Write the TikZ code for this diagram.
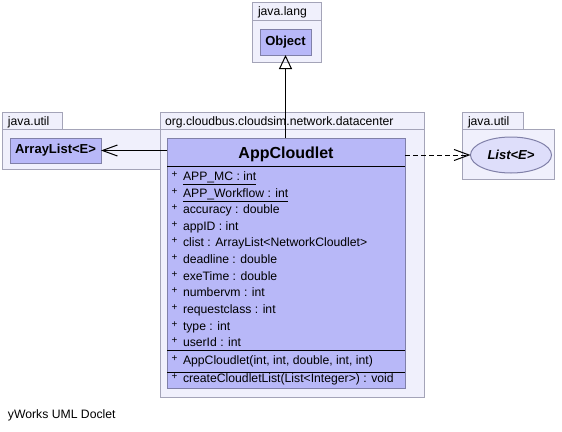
\documentclass[tikz,border=0pt]{standalone}
\usepackage{fontspec}
\setmainfont{Liberation Sans}
\usetikzlibrary{arrows.meta,shapes.geometric}
\definecolor{pkgfill}{RGB}{240,240,252}
\definecolor{pkgline}{RGB}{164,164,184}
\definecolor{clsfill}{RGB}{184,184,248}
\definecolor{clsline}{RGB}{128,128,168}
\definecolor{ellfill}{RGB}{222,222,250}
\begin{document}
\begin{tikzpicture}[x=1pt,y=-1pt,
  every node/.style={outer sep=0pt},
  pkgbox/.style={draw=pkgline, fill=pkgfill, line width=1pt, anchor=north west, inner sep=0pt},
  clsbox/.style={draw=clsline, fill=clsfill, line width=1pt, inner sep=0pt, font=\bfseries\fontsize{13}{15}\selectfont},
  txt/.style={inner sep=0pt, anchor=base west, font=\fontsize{12.2}{14}\selectfont},
  plus/.style={inner sep=0pt, anchor=base west, font=\fontsize{10}{12}\selectfont},
  sep/.style={line width=1pt, black},
  conn/.style={line width=1pt, black},
]
\useasboundingbox (0,0) rectangle (562,431);
\fill[white] (0,0) rectangle (562,431);

% java.lang package
\node[pkgbox, minimum width=69pt, minimum height=42pt] (langbody) at (252,20) {};
\node[pkgbox, minimum width=69pt, minimum height=18pt] (langtab) at (252,2) {};
\node[txt] (langlbl) at (258,15.5) {java.lang};
\node[clsbox, anchor=north west, minimum width=51pt, minimum height=26pt] (obj) at (260,29) {Object};

% left java.util package
\node[pkgbox, minimum width=161pt, minimum height=40pt] (utilLbody) at (2,129) {};
\node[pkgbox, minimum width=60pt, minimum height=17pt] (utilLtab) at (2,112) {};
\node[txt] (utilLlbl) at (8,125) {java.util};
\node[clsbox, anchor=north west, minimum width=91pt, minimum height=25pt] (arr) at (10,138) {ArrayList<E>};

% right java.util package
\node[pkgbox, minimum width=92pt, minimum height=50pt] (utilRbody) at (462,129) {};
\node[pkgbox, minimum width=61pt, minimum height=17pt] (utilRtab) at (462,112) {};
\node[txt] (utilRlbl) at (468,125) {java.util};
\node[ellipse, draw=clsline, fill=ellfill, line width=1pt, inner sep=0pt,
      minimum width=81pt, minimum height=36pt,
      font=\bfseries\itshape\fontsize{13}{15}\selectfont] (list) at (511,155) {List<E>};

% center package
\node[pkgbox, minimum width=264pt, minimum height=268pt] (dcbody) at (160,129) {};
\node[pkgbox, minimum width=264pt, minimum height=17pt] (dctab) at (160,112) {};
\node[txt] (dclbl) at (165,125) {org.cloudbus.cloudsim.network.datacenter};

% AppCloudlet class
\node[clsbox, anchor=north west, minimum width=238pt, minimum height=250pt] (app) at (167,138) {};
\node[inner sep=0pt, anchor=base, font=\bfseries\fontsize{16}{18}\selectfont] (apptitle) at (286,158.5) {AppCloudlet};
\draw[sep] ([yshift=-28pt]app.north west) -- ([yshift=-28pt]app.north east);
\draw[sep] ([yshift=38pt]app.south west) -- ([yshift=38pt]app.south east);
\draw[sep] ([yshift=16pt]app.south west) -- ([yshift=16pt]app.south east);

\foreach \t [count=\i] in {
  {\underline{APP\_MC : int}},
  {\underline{APP\_Workflow : int}},
  {accuracy : double},
  {appID : int},
  {clist : ArrayList<NetworkCloudlet>},
  {deadline : double},
  {exeTime : double},
  {numbervm : int},
  {requestclass : int},
  {type : int},
  {userId : int}} {
  \node[plus] (p\i) at (171.5,{177.5+16.62*(\i-1)}) {+};
  \node[txt] (a\i) at (183,{180.5+16.62*(\i-1)}) {\t};
}
\node[plus] (pm1) at (171.5,361.5) {+};
\node[txt] (m1) at (183,364.5) {AppCloudlet(int, int, double, int, int)};
\node[plus] (pm2) at (171.5,379.5) {+};
\node[txt] (m2) at (183,382.5) {createCloudletList(List<Integer>) : void};

% connectors
\draw[conn, -{Triangle[open, width=13pt, length=14pt, line width=1pt]}] (app.north -| obj.south) -- (obj.south);
\draw[conn, -{Straight Barb[length=15pt, width=11pt, line width=1pt]}] (arr.east -| app.west) -- (arr.east);
\draw[conn, dash pattern=on 5pt off 3pt, -{Straight Barb[length=15pt, width=11pt, line width=1pt]}] (list.west -| app.east) -- (list.west);

\node[txt] (footer) at (8,418) {yWorks UML Doclet};
\end{tikzpicture}
\end{document}
